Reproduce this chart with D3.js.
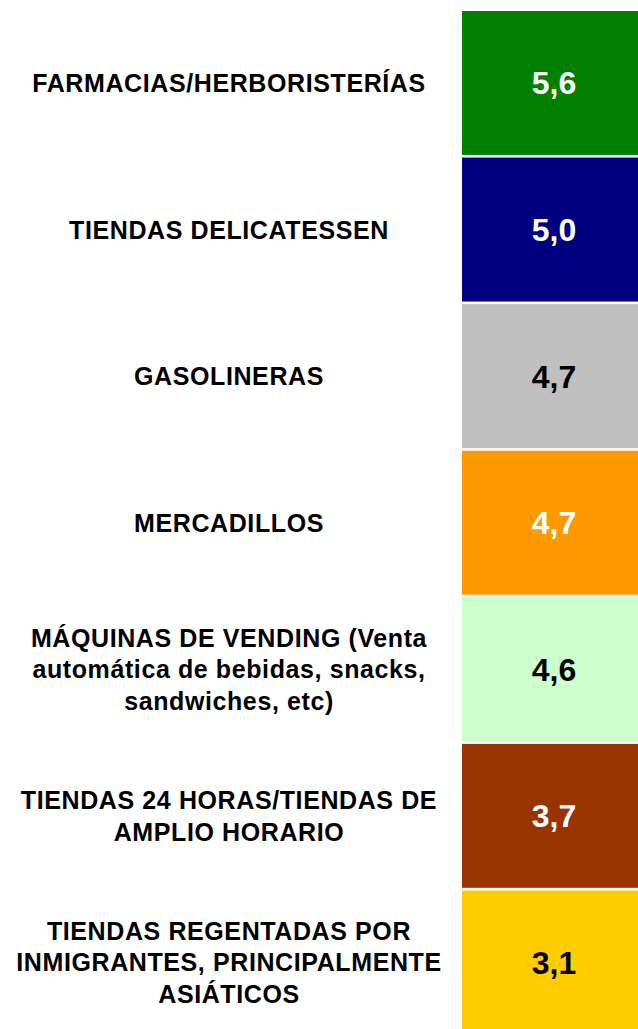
<!DOCTYPE html>
<html lang="es">
<head>
<meta charset="UTF-8">
<title>Puntuación por tipo de tienda</title>
<script src="https://d3js.org/d3.v7.min.js"></script>
<style>
  body { margin: 0; background: #fff; }
  svg { display: block; }
</style>
</head>
<body>
<svg id="chart" width="638" height="1029"></svg>
<script>
// categorias (cada linea es un renglón de la etiqueta)
const categories = [
  ["FARMACIAS/HERBORISTERÍAS"],
  ["TIENDAS DELICATESSEN"],
  ["GASOLINERAS"],
  ["MERCADILLOS"],
  ["MÁQUINAS DE VENDING (Venta", "automática de bebidas, snacks,", "sandwiches, etc)"],
  ["TIENDAS 24 HORAS/TIENDAS DE", "AMPLIO HORARIO"],
  ["TIENDAS REGENTADAS POR", "INMIGRANTES, PRINCIPALMENTE", "ASIÁTICOS"]
];
const values = [5.6, 5.0, 4.7, 4.7, 4.6, 3.7, 3.1];
const fills = ["#008000", "#000080", "#C0C0C0", "#FF9900", "#CCFFCC", "#993300", "#FFCC00"];
const textColors = ["#fff", "#fff", "#000", "#fff", "#000", "#fff", "#000"];

const svg = d3.select("#chart");
const fmt = d => d.toFixed(1).replace(".", ",");

const y = d3.scaleBand()
  .domain(d3.range(categories.length))
  .range([11, 11 + 7 * 146.2])
  .paddingInner(0.018)
  .paddingOuter(0);

const boxX = 462, boxW = 184, labelX = 229;

const rows = svg.selectAll(".row")
  .data(categories)
  .enter().append("g")
  .attr("class", "row");

rows.append("rect")
  .attr("x", boxX)
  .attr("y", (d, i) => y(i))
  .attr("width", boxW)
  .attr("height", y.bandwidth())
  .style("fill", (d, i) => fills[i]);

rows.append("text")
  .attr("x", boxX + boxW / 2)
  .attr("y", (d, i) => y(i) + y.bandwidth() / 2)
  .attr("dy", "0.36em")
  .attr("text-anchor", "middle")
  .style("font-family", "Arial, 'Liberation Sans', sans-serif")
  .style("font-weight", "bold")
  .style("font-size", "32px")
  .style("fill", (d, i) => textColors[i])
  .text((d, i) => fmt(values[i]));

const lineH = 31.7;
const labels = rows.append("text")
  .attr("text-anchor", "middle")
  .style("font-family", "Arial, 'Liberation Sans', sans-serif")
  .style("font-weight", "bold")
  .style("font-size", "25px")
  .style("letter-spacing", "0.6px")
  .style("fill", "#000");

labels.each(function(lines, i) {
  const cy = y(i) + y.bandwidth() / 2;
  const start = cy - (lines.length - 1) * lineH / 2;
  d3.select(this).selectAll("tspan")
    .data(lines)
    .enter().append("tspan")
    .attr("x", labelX)
    .attr("y", (l, j) => start + j * lineH)
    .attr("dy", "0.36em")
    .text(l => l);
});
</script>
</body>
</html>
